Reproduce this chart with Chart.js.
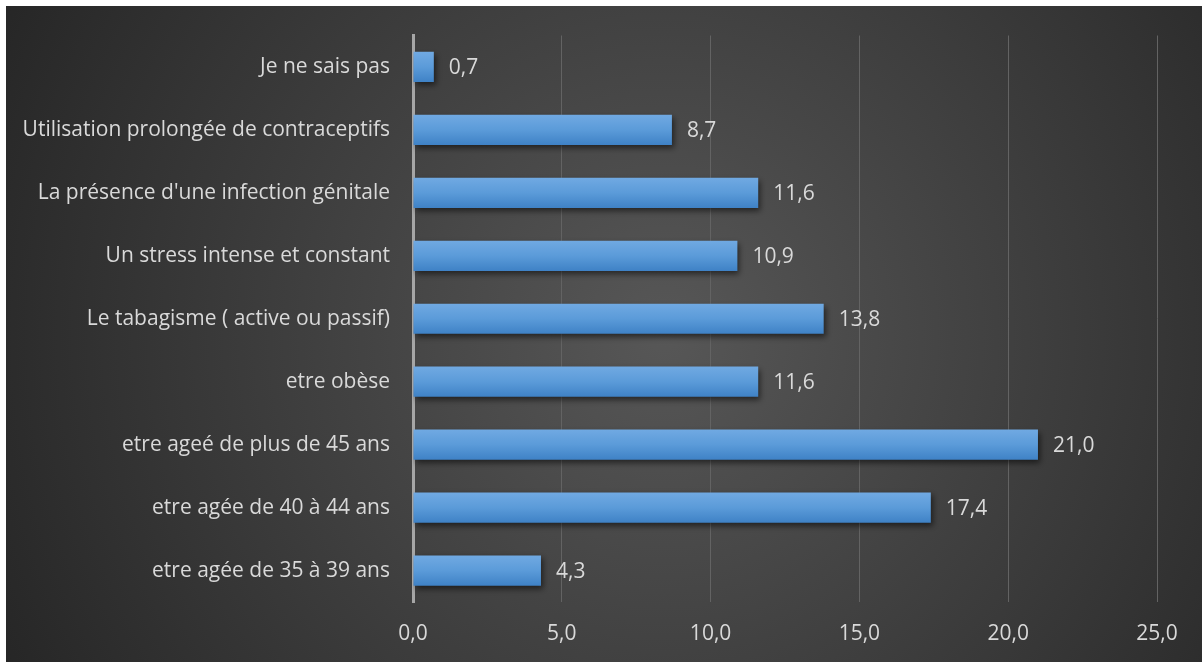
<!DOCTYPE html>
<html>
<head>
<meta charset="utf-8">
<script src="https://cdn.jsdelivr.net/npm/chart.js@4.4.1/dist/chart.umd.min.js"></script>
<style>
    html, body { margin: 0; padding: 0; background: #ffffff; }
    #wrap { position: absolute; left: 6px; top: 6px; width: 1196px; height: 656px; }
</style>
</head>
<body>
<div id="wrap"><canvas id="chart"></canvas></div>
<script>
const categories = [
    "Je ne sais pas",
    "Utilisation prolongée de contraceptifs",
    "La présence d'une infection génitale",
    "Un stress intense et constant",
    "Le tabagisme ( active ou passif)",
    "etre obèse",
    "etre ageé de plus de 45 ans",
    "etre agée de 40 à 44 ans",
    "etre agée de 35 à 39 ans"
];
const values = [0.7, 8.7, 11.6, 10.9, 13.8, 11.6, 21.0, 17.4, 4.3];
const xTicks = [0, 5, 10, 15, 20, 25];

const FONT = { family: "'Open Sans', sans-serif", size: 21 };
const TEXT = '#d9d9d9';

function fmt(v) {
    return Number(v).toFixed(1).replace('.', ',');
}

// Dark radial background behind the whole canvas
const backgroundPlugin = {
    id: 'bg',
    beforeDraw(chart) {
        const ctx = chart.ctx;
        const w = chart.width, h = chart.height;
        const g = ctx.createRadialGradient(w * 0.55, h * 0.5, 0, w * 0.55, h * 0.5, w * 0.62);
        g.addColorStop(0, '#575757');
        g.addColorStop(1, '#262626');
        ctx.save();
        ctx.fillStyle = g;
        ctx.fillRect(0, 0, w, h);
        ctx.restore();
    }
};

// Soft drop shadow under the bars
const shadowPlugin = {
    id: 'barShadow',
    beforeDatasetDraw(chart) {
        const ctx = chart.ctx;
        ctx.save();
        ctx.shadowColor = 'rgba(0,0,0,0.55)';
        ctx.shadowBlur = 6;
        ctx.shadowOffsetX = 2;
        ctx.shadowOffsetY = 3;
    },
    afterDatasetDraw(chart) {
        chart.ctx.restore();
    }
};

// Value labels at the end of each bar
const valueLabels = {
    id: 'valueLabels',
    afterDatasetsDraw(chart) {
        const ctx = chart.ctx;
        const meta = chart.getDatasetMeta(0);
        ctx.save();
        ctx.font = FONT.size + 'px ' + FONT.family;
        ctx.fillStyle = TEXT;
        ctx.textAlign = 'left';
        ctx.textBaseline = 'middle';
        meta.data.forEach((bar, i) => {
            ctx.fillText(fmt(values[i]), bar.x + 15, bar.y + 1);
        });
        ctx.restore();
    }
};

function barGradient(context) {
    const chart = context.chart;
    const yScale = chart.scales.y;
    if (!yScale || context.dataIndex === undefined) return '#5b9bd5';
    const cy = yScale.getPixelForValue(context.dataIndex);
    if (!isFinite(cy)) return '#5b9bd5';
    const half = 15;
    const g = chart.ctx.createLinearGradient(0, cy - half, 0, cy + half);
    g.addColorStop(0, '#70a9e2');
    g.addColorStop(0.5, '#5b9bd9');
    g.addColorStop(1, '#3f82c6');
    return g;
}

new Chart(document.getElementById('chart'), {
    type: 'bar',
    data: {
        labels: categories,
        datasets: [{
            data: values,
            backgroundColor: barGradient,
            borderWidth: 0,
            categoryPercentage: 1,
            barPercentage: 0.48
        }]
    },
    options: {
        indexAxis: 'y',
        responsive: true,
        maintainAspectRatio: false,
        animation: false,
        layout: {
            padding: { top: 29.5, right: 45, left: 0, bottom: 0 }
        },
        plugins: {
            legend: { display: false },
            tooltip: { enabled: false }
        },
        scales: {
            x: {
                min: 0,
                max: 25,
                afterBuildTicks: (scale) => {
                    scale.ticks = xTicks.map(v => ({ value: v }));
                },
                afterFit: (scale) => {
                    scale.height = 60;
                    scale.paddingLeft = 0;
                    scale.paddingRight = 0;
                },
                grid: {
                    color: '#636363',
                    lineWidth: 1,
                    drawTicks: false
                },
                border: { display: false },
                ticks: {
                    color: TEXT,
                    font: FONT,
                    padding: 19,
                    callback: (v) => fmt(v)
                }
            },
            y: {
                afterFit: (scale) => {
                    scale.width = 407;
                    scale.paddingTop = 0;
                    scale.paddingBottom = 0;
                },
                grid: { display: false, drawTicks: false },
                border: { display: true, color: '#a6a6a6', width: 3 },
                ticks: {
                    color: TEXT,
                    font: FONT,
                    padding: 23
                }
            }
        }
    },
    plugins: [backgroundPlugin, shadowPlugin, valueLabels]
});
</script>
</body>
</html>
